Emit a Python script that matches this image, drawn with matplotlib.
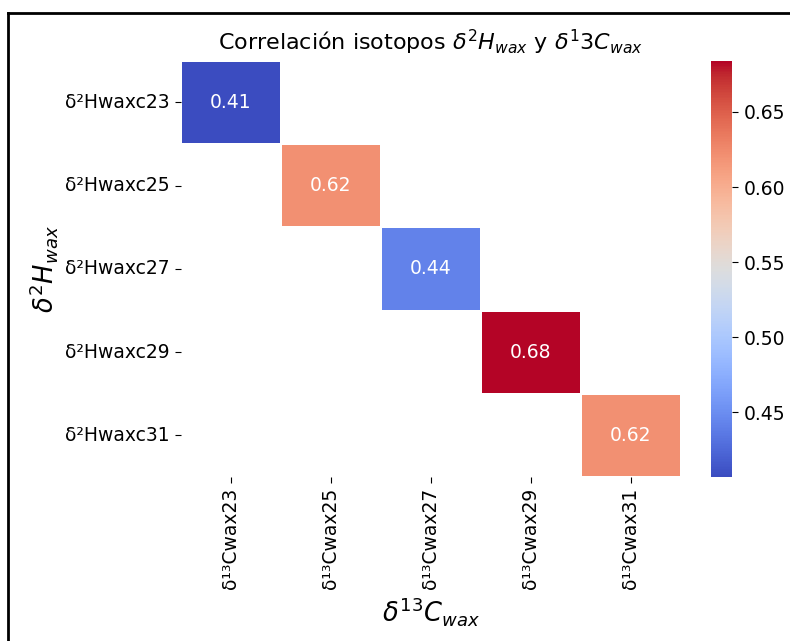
import numpy as np
import pandas as pd
import matplotlib
matplotlib.use("Agg")
import matplotlib.pyplot as plt
import seaborn as sns
from matplotlib.lines import Line2D

# etiquetas y valores de correlación (solo diagonal)
filas = ["δ²Hwaxc23", "δ²Hwaxc25", "δ²Hwaxc27", "δ²Hwaxc29", "δ²Hwaxc31"]
columnas = ["δ¹³Cwax23", "δ¹³Cwax25", "δ¹³Cwax27", "δ¹³Cwax29", "δ¹³Cwax31"]
diagonal = [0.407, 0.621, 0.442, 0.684, 0.621]

matriz = np.full((len(filas), len(columnas)), np.nan)
for i, v in enumerate(diagonal):
    matriz[i, i] = v
df = pd.DataFrame(matriz, index=filas, columns=columnas)

fig = plt.figure(figsize=(7.9, 6.41), dpi=100)
ax = fig.add_axes([0.229, 0.256, 0.633, 0.649])
cax = fig.add_axes([0.900, 0.256, 0.027, 0.649])

sns.heatmap(df, annot=True, fmt=".2f", cmap="coolwarm", linewidths=1.3,
            linecolor="white", ax=ax, cbar_ax=cax, annot_kws={"fontsize": 13.5})

ax.set_title(r"Correlación isotopos $\delta^2H_{wax}$ y $\delta^13C_{wax}$", fontsize=16, pad=8)
ax.set_xlabel(r"$\delta^{13}C_{wax}$", fontsize=18.5)
ax.set_ylabel(r"$\delta^2H_{wax}$", fontsize=18.5)
ax.tick_params(axis="both", labelsize=13.5, length=4.5)
plt.setp(ax.get_xticklabels(), rotation=90)
plt.setp(ax.get_yticklabels(), rotation=0)
cax.tick_params(labelsize=13.5, length=4.5)

# marco de la captura
fig.add_artist(Line2D([7.5 / 790, 7.5 / 790], [1 - 12.5 / 641, -0.1], color="black", lw=2, transform=fig.transFigure))
fig.add_artist(Line2D([7.5 / 790, 1.1], [1 - 12.5 / 641, 1 - 12.5 / 641], color="black", lw=2, transform=fig.transFigure))

fig.savefig("out.png", dpi=100)
